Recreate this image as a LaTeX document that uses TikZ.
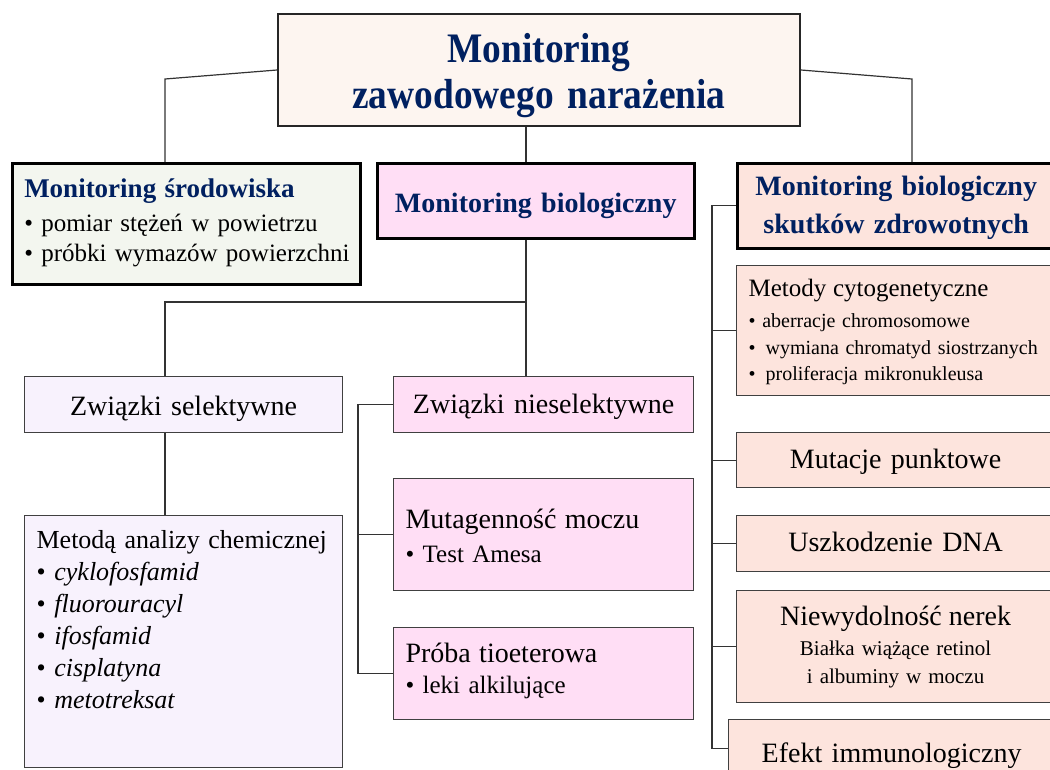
\documentclass[tikz,border=0pt]{standalone}
\usepackage{fontspec}
\setmainfont{Liberation Serif}
\newfontfamily\titlefont{Liberation Serif}[FakeStretch=0.89]
\definecolor{navy}{RGB}{0,32,96}
\definecolor{titlebg}{RGB}{253,245,240}
\definecolor{envbg}{RGB}{243,246,239}
\definecolor{biobg}{RGB}{255,222,245}
\definecolor{effbg}{RGB}{253,228,221}
\definecolor{selbg}{RGB}{248,242,253}

\begin{document}
\begin{tikzpicture}[
    x=1pt, y=-1pt,
    box/.style={rectangle, draw=black!75, line width=1.2pt, anchor=north west,
      inner xsep=12pt, inner ysep=0pt, font=\fontsize{28}{34}\selectfont},
    headbox/.style={box, draw=black, line width=2.5pt},
    dims/.style n args={3}{text width=#1pt, text height=#2pt, text depth=#3pt},
    head/.style={font=\fontsize{28}{38}\selectfont\bfseries, text=navy},
    link/.style={black!80, line width=1.2pt},
]

\useasboundingbox (0,0) rectangle (1050,769);
\clip (0,0) rectangle (1050,769);

% ===== Top =====
\node[headbox, fill=titlebg, draw=black!85, line width=2pt, dims={498}{48}{64}, align=center,
  font=\titlefont\fontsize{42}{46}\selectfont\bfseries, text=navy] (top) at (277,13)
  {Monitoring\\zawodowego narażenia};

% ===== Second level =====
\node[headbox, fill=envbg, dims={324}{34}{87}, align=left,
  font=\fontsize{25}{30}\selectfont] (srod) at (11,162)
  {{\fontsize{27}{30}\selectfont\bfseries\color{navy}Monitoring środowiska}\\[4pt]
   \mbox{• pomiar stężeń w powietrzu}\\
   \mbox{• próbki wymazów powierzchni}};

\node[headbox, head, fill=biobg, dims={293}{49}{26}, align=center] (biol) at (376,162)
  {Monitoring biologiczny};

\node[headbox, head, fill=effbg, dims={294}{32}{53}, align=center] (skut) at (736,162)
  {Monitoring biologiczny\\skutków zdrowotnych};

% ===== Biological monitoring branch =====
\node[box, fill=selbg, dims={294}{39}{17}, align=center] (zsel) at (24,376)
  {Związki selektywne};

\node[box, fill=selbg, dims={294}{33}{219}, align=left,
  font=\fontsize{26}{32}\selectfont] (meto) at (24,515)
  {Metodą analizy chemicznej\\
   • \textit{cyklofosfamid}\\
   • \textit{fluorouracyl}\\
   • \textit{ifosfamid}\\
   • \textit{cisplatyna}\\
   • \textit{metotreksat}};

\node[box, fill=biobg, dims={276}{37}{19}, align=center] (znie) at (393,376)
  {Związki nieselektywne};

\node[box, fill=biobg, dims={276}{50}{62}, align=left,
  font=\fontsize{25}{34}\selectfont] (muta) at (393,478)
  {{\fontsize{28}{34}\selectfont Mutagenność moczu}\\
   • Test Amesa};

\node[box, fill=biobg, dims={276}{35}{57}, align=left,
  font=\fontsize{25}{31}\selectfont] (prob) at (393,627)
  {{\fontsize{28}{31}\selectfont Próba tioeterowa}\\
   • leki alkilujące};

% ===== Health effects branch =====
\node[box, fill=effbg, dims={294}{31}{99}, align=left,
  font=\fontsize{20}{26.5}\selectfont] (cyto) at (736,265)
  {{\fontsize{25}{30}\selectfont Metody cytogenetyczne}\\[4.5pt]
   • aberracje chromosomowe\\
   •\enspace wymiana chromatyd siostrzanych\\
   •\enspace proliferacja mikronukleusa};

\node[box, fill=effbg, dims={294}{36}{19}, align=center] (mpun) at (736,432)
  {Mutacje punktowe};

\node[box, fill=effbg, dims={294}{36}{20}, align=center] (uszk) at (736,515)
  {Uszkodzenie DNA};

\node[box, fill=effbg, dims={294}{35}{77}, align=center,
  font=\fontsize{21}{27.5}\selectfont] (niew) at (736,590)
  {{\fontsize{28}{28}\selectfont Niewydolność nerek}\\[2.5pt]
   Białka wiążące retinol\\
   i albuminy w moczu};

\node[box, fill=effbg, dims={302}{43}{15}, align=center] (efek) at (728,719)
  {Efekt immunologiczny};

% ===== Connectors =====
\coordinate (kL) at (165,79);
\coordinate (kR) at (912,79);
\coordinate (trunk) at (526,302);
\coordinate (kS) at (165,302);
\coordinate (kN) at (358,0);
\coordinate (kB) at (712,0);

\draw[link] (top.west) -- (kL) -- (kL |- srod.north);
\draw[link] (top.east) -- (kR) -- (kR |- skut.north);
\draw[link] (top.south -| trunk) -- (biol.north -| trunk);
\draw[link] (biol.south -| trunk) -- (znie.north -| trunk);
\draw[link] (trunk) -- (kS) -- (kS |- zsel.north);
\draw[link] (kS |- zsel.south) -- (kS |- meto.north);

\draw[link] (znie.west) -- (znie.west -| kN) |- (prob.west);
\draw[link] (muta.west) -- (muta.west -| kN);

\draw[link] (skut.west) -- (skut.west -| kB) |- (efek.west);
\foreach \n in {cyto, mpun, uszk, niew}
  \draw[link] (\n.west) -- (\n.west -| kB);

\end{tikzpicture}
\end{document}
